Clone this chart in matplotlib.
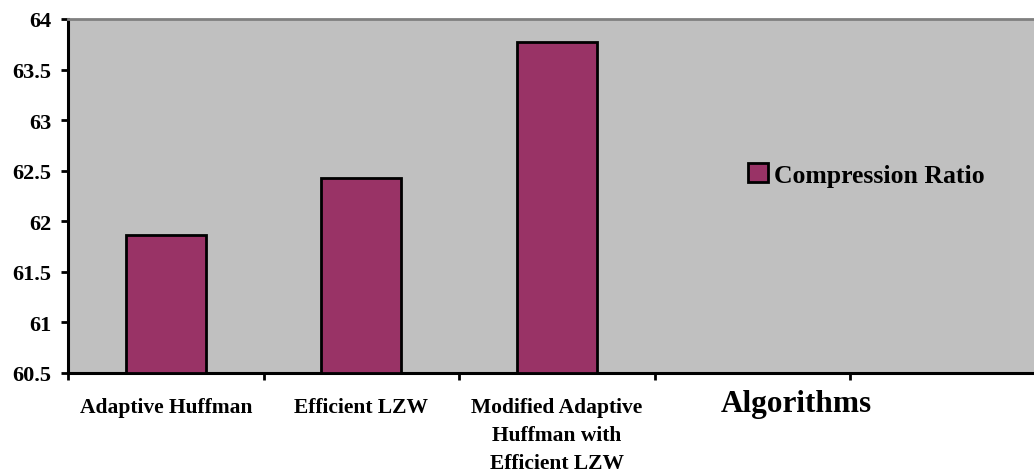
import matplotlib
matplotlib.use('Agg')
import matplotlib.pyplot as plt
import numpy as np

# data
categories = ['Adaptive Huffman', 'Efficient LZW', 'Modified Adaptive\nHuffman with\nEfficient LZW']
ratio = [61.86, 62.43, 63.77]
series_name = 'Compression Ratio'
n_slots = 5                      # excel left two empty category slots

plt.rcParams['font.family'] = 'Liberation Serif'
plt.rcParams['font.weight'] = 'bold'

W, H = 1034, 477
fig = plt.figure(figsize=(W / 100, H / 100), dpi=100)
left, right, bottom, top = 68, 1045.5, 374, 20
ax = fig.add_axes([left / W, (H - bottom) / H, (right - left) / W, (bottom - top) / H])
ax.set_facecolor('#C0C0C0')

x = np.arange(len(categories))
ax.bar(x, [r - 60.5 for r in ratio], bottom=60.5, width=0.407, color='#993366',
       edgecolor='black', linewidth=2, label=series_name, zorder=3)

ax.set_xlim(-0.5, n_slots - 0.5)
ax.set_ylim(60.5, 64)
ax.set_yticks(np.arange(60.5, 64.01, 0.5))
ax.set_yticklabels(['60.5', '61', '61.5', '62', '62.5', '63', '63.5', '64'])
ax.tick_params(axis='y', direction='out', length=5, width=2, labelsize=16, pad=7)

# boundaries as major ticks, category names as minor ticks
ax.set_xticks(np.arange(-0.5, n_slots, 1.0))
ax.set_xticklabels([])
ax.set_xticks(x, minor=True)
ax.set_xticklabels(categories, minor=True, fontsize=15.5, linespacing=1.55)
ax.tick_params(axis='x', which='major', direction='out', length=5, width=2)
ax.tick_params(axis='x', which='minor', length=0, pad=17)

for s in ['left', 'bottom']:
    ax.spines[s].set_linewidth(2.2)
    ax.spines[s].set_color('black')
ax.spines['top'].set_color('#808080')
ax.spines['top'].set_linewidth(2)
ax.spines['right'].set_visible(False)

ax.set_xlabel('Algorithms', fontsize=22.5, fontweight='bold')
ax.xaxis.set_label_coords(0.745, -0.045)

ax.legend(loc='center left', bbox_to_anchor=(0.696, 0.559), frameon=False,
          fontsize=18.5, handlelength=0.75, handleheight=0.75, handletextpad=0.25,
          borderpad=0, borderaxespad=0)

fig.savefig('out.png', dpi=100)
